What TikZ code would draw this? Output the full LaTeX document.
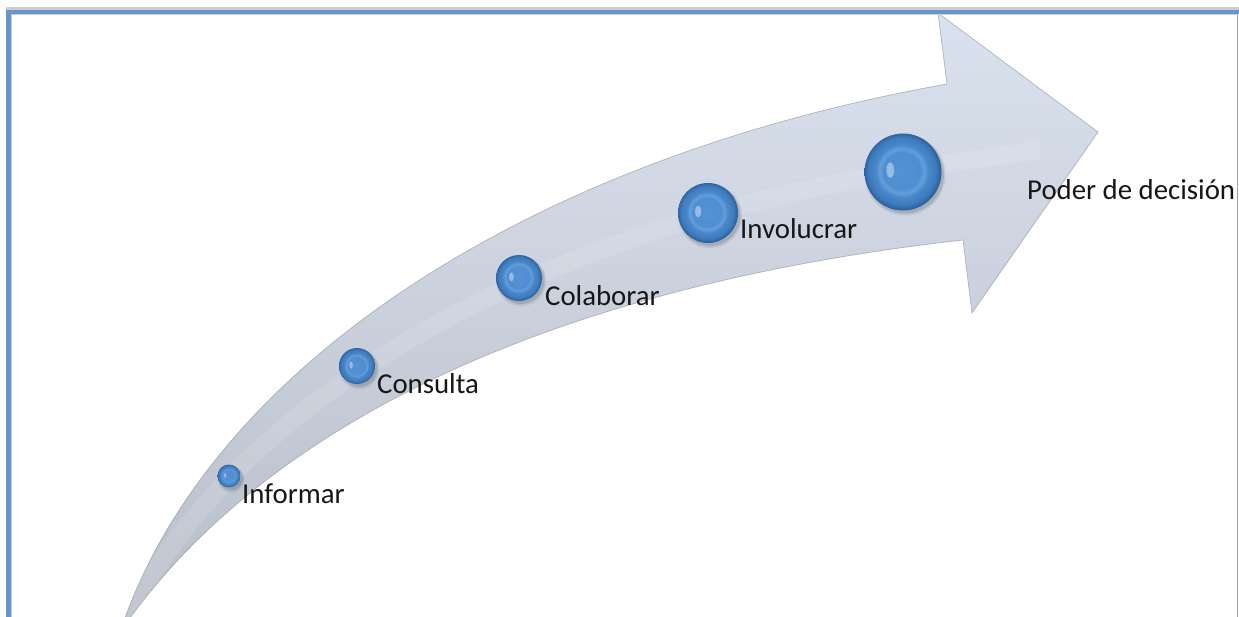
\documentclass[tikz,border=0pt]{standalone}
\usepackage{fontspec}
\setmainfont{Carlito}
\usetikzlibrary{calc}
\definecolor{frameblue}{RGB}{100,151,205}
\definecolor{framegrey}{RGB}{205,205,205}
\definecolor{arrtop}{RGB}{219,226,239}
\definecolor{arrbot}{RGB}{184,190,201}
\definecolor{arredge}{RGB}{150,156,166}
\definecolor{txt}{RGB}{22,22,22}
\definecolor{bA}{RGB}{84,146,212}
\definecolor{bB}{RGB}{80,142,209}
\definecolor{bC}{RGB}{98,160,220}
\definecolor{bD}{RGB}{74,136,203}
\definecolor{bE}{RGB}{62,122,188}
\definecolor{bF}{RGB}{42,96,158}
\pgfdeclareradialshading{btn}{\pgfpoint{-1bp}{1bp}}{color(0bp)=(bA); color(12bp)=(bB); color(14.5bp)=(bC); color(17bp)=(bD); color(22bp)=(bE); color(25bp)=(bF); color(50bp)=(bF)}
\newcommand\btn[4]{%
  \fill[black,opacity=0.08] (#2+2,#3+3) circle[radius=#4+2];
  \fill[black,opacity=0.12] (#2+2,#3+2.5) circle[radius=#4+0.5];
  \node[ball] (#1) at (#2,#3) [minimum size={2*#4pt}] {};
  \fill[white,opacity=0.4] ($(#1.center)+(-0.33*#4,-0.05*#4)$) ellipse[x radius=0.1*#4, y radius=0.2*#4];
}
\tikzset{
  ball/.style={circle, inner sep=0pt, outer sep=0pt, shading=btn},
  lbl/.style={anchor=base west, inner sep=0pt, text=txt, font=\fontsize{28.8}{34}\selectfont},
}
\begin{document}
\begin{tikzpicture}[x=1pt,y=-1pt]
\useasboundingbox (0,0) rectangle (1239,617);
\fill[white] (0,0) rectangle (1239,617);
% arrow
\def\arrowpath{(125,618) .. controls (215,370) and (520,160) .. (947,84) -- (938,13) -- (1098,132) -- (972,313) -- (963,240) .. controls (520,290) and (260,440) .. (130,618) -- cycle}
\shade[top color=arrtop, bottom color=arrbot] \arrowpath;
\begin{scope}
  \clip \arrowpath;
  \draw[white, opacity=0.12, line width=18pt] (127,618) .. controls (237,405) and (520,225) .. (958,162) -- (1040,150);
\end{scope}
\draw[arredge, line width=0.7pt, opacity=0.7] \arrowpath;
% frame
\fill[framegrey] (6,7.5) rectangle (1239,10);
\fill[frameblue] (6,10) rectangle (1239,14.5);
\fill[frameblue] (6,10) rectangle (10.5,617);
\fill[framegrey] (10.5,14.5) rectangle (11.5,617);
\fill[framegrey] (10.5,14.5) rectangle (1237,15.3);
\fill[framegrey!80!black] (1237,14.5) rectangle (1238.2,617);
% buttons
\btn{inf}{229}{476}{11.5}
\btn{con}{357}{366}{18}
\btn{col}{519}{278}{23}
\btn{inv}{708}{213}{30}
\btn{pod}{903}{172}{38.5}
% labels
\node[lbl] (tinf) at (242,503) {Informar};
\node[lbl] (tcon) at (377,393) {Consulta};
\node[lbl] (tcol) at (545,306) {Colaborar};
\node[lbl] (tinv) at (740,239) {Involucrar};
\node[lbl] (tpod) at (1027,200) {Poder de decisión};
\end{tikzpicture}
\end{document}
